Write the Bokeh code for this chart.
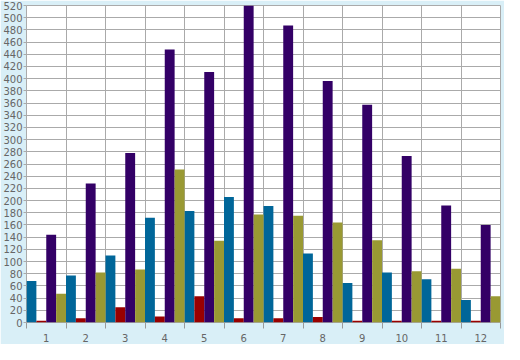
from bokeh.plotting import figure
from bokeh.models import ColumnDataSource, FixedTicker, Range1d
from bokeh.transform import dodge
from bokeh.embed import file_html
from bokeh.resources import INLINE

categories = [1, 2, 3, 4, 5, 6, 7, 8, 9, 10, 11, 12]
blue_vals = [68, 77, 110, 172, 183, 206, 191, 113, 65, 82, 71, 37]
red_vals = [3, 7, 25, 10, 43, 7, 7, 9, 3, 3, 3, 3]
purple_vals = [144, 228, 278, 448, 411, 520, 487, 396, 357, 273, 192, 160]
olive_vals = [47, 82, 87, 251, 134, 177, 175, 164, 135, 84, 88, 43]
y_ticks = list(range(0, 521, 20))

colors = ["#006699", "#990000", "#330066", "#999933"]
offsets = [-0.375, -0.125, 0.125, 0.375]

source = ColumnDataSource(data=dict(
    x=categories, s0=blue_vals, s1=red_vals, s2=purple_vals, s3=olive_vals))

p = figure(width=504, height=344, output_backend="svg", toolbar_location=None,
           x_range=Range1d(0.5, 12.5), y_range=Range1d(0, 520),
           min_border_left=0, min_border_right=4, min_border_top=5,
           min_border_bottom=0,
           background_fill_color="white", border_fill_color="#d9eff7",
           outline_line_color="#aaaaaa", outline_line_width=1)

for i, (c, off) in enumerate(zip(colors, offsets)):
    p.vbar(x=dodge("x", off, range=p.x_range), top="s%d" % i, width=0.25,
           source=source, fill_color=c, line_color=None)

bounds = [c - 0.5 for c in categories] + [categories[-1] + 0.5]

p.xgrid.ticker = FixedTicker(ticks=bounds)
p.xgrid.grid_line_color = "#aaaaaa"
p.ygrid.ticker = FixedTicker(ticks=y_ticks)
p.ygrid.grid_line_color = "#aaaaaa"

xa = p.xaxis[0]
xa.ticker = FixedTicker(ticks=categories, minor_ticks=bounds)
xa.major_tick_line_color = None
xa.minor_tick_line_color = "#999999"
xa.minor_tick_out = 6
xa.minor_tick_in = 0
xa.axis_line_color = None
xa.major_label_standoff = 5
xa.major_label_text_font = "DejaVu Sans"
xa.major_label_text_font_size = "10px"
xa.major_label_text_color = "#666666"

ya = p.yaxis[0]
ya.ticker = FixedTicker(ticks=y_ticks)
ya.major_tick_line_color = "#aaaaaa"
ya.major_tick_out = 3
ya.major_tick_in = 0
ya.minor_tick_line_color = None
ya.axis_line_color = None
ya.major_label_standoff = 1
ya.major_label_text_font = "DejaVu Sans"
ya.major_label_text_font_size = "10px"
ya.major_label_text_color = "#666666"

open("out.html", "w").write(file_html(p, INLINE))
